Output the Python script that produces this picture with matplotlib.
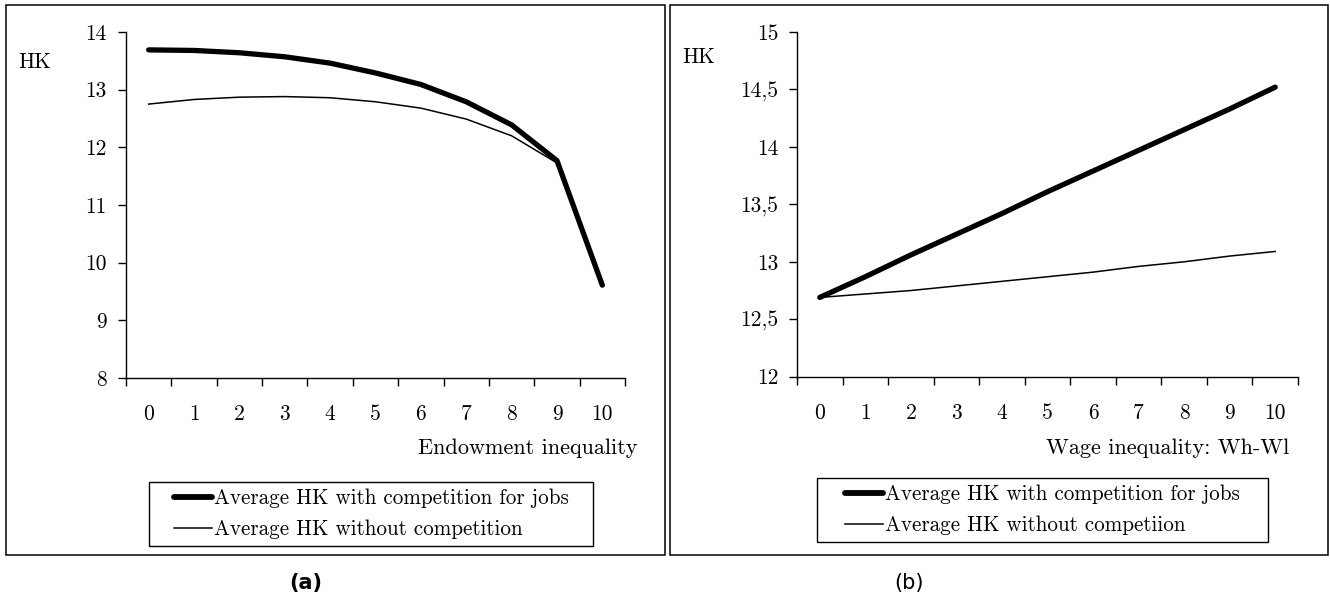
import matplotlib
matplotlib.use("Agg")
import matplotlib.pyplot as plt
from matplotlib.patches import Rectangle
from matplotlib.lines import Line2D

# ---- data ----
categories = list(range(11))

endow_with_comp = [13.69, 13.68, 13.64, 13.57, 13.46, 13.29, 13.09, 12.79, 12.39, 11.77, 9.61]
endow_without_comp = [12.75, 12.83, 12.87, 12.88, 12.86, 12.79, 12.68, 12.49, 12.20, 11.73, 9.61]

wage_with_comp = [12.69, 12.87, 13.06, 13.24, 13.42, 13.61, 13.79, 13.97, 14.15, 14.33, 14.52]
wage_without_comp = [12.69, 12.72, 12.75, 12.79, 12.83, 12.87, 12.91, 12.96, 13.00, 13.05, 13.09]

left_yticks = [8, 9, 10, 11, 12, 13, 14]
left_yticklabels = ["8", "9", "10", "11", "12", "13", "14"]
right_yticks = [12, 12.5, 13, 13.5, 14, 14.5, 15]
right_yticklabels = ["12", "12,5", "13", "13,5", "14", "14,5", "15"]

left_xlabel = "Endowment inequality"
right_xlabel = "Wage inequality: Wh-Wl"
left_legend = ["Average HK with competition for jobs", "Average HK without competition"]
right_legend = ["Average HK with competition for jobs", "Average HK without competiion"]

plt.rcParams["font.family"] = ["cmr10", "DejaVu Serif"]
plt.rcParams["axes.unicode_minus"] = False

FS = 15.5
LEG_FS = 15.2
W, H = 1330, 602
fig = plt.figure(figsize=(W / 100, H / 100), dpi=100)


def fx(px):
    return px / W


def fy(py):
    return 1 - py / H


def frame(x0, y0, x1, y1, lw=1.0):
    fig.patches.append(Rectangle((fx(x0), fy(y1)), fx(x1) - fx(x0), fy(y0) - fy(y1),
                                 transform=fig.transFigure, fill=False,
                                 edgecolor="black", lw=lw, zorder=5))


def panel(rect, with_c, without_c, yticks, yticklabels, ylim, ypad, xlabel, xlabel_right,
          legend_labels, legend_anchor, legend_box):
    ax = fig.add_axes(rect)
    ax.plot(categories, with_c, color="black", lw=3.8, solid_capstyle="round", zorder=3)
    ax.plot(categories, without_c, color="black", lw=1.1, zorder=2)
    ax.set_xlim(-0.5, 10.5)
    ax.set_ylim(*ylim)
    for s in ("top", "right"):
        ax.spines[s].set_visible(False)
    for s in ("left", "bottom"):
        ax.spines[s].set_linewidth(1.0)
    ax.set_yticks(yticks)
    ax.set_yticklabels(yticklabels)
    ax.tick_params(axis="y", direction="out", length=6, width=1, pad=ypad, labelsize=FS)
    # ticks sit between categories, labels sit at the categories
    ax.set_xticks([c - 0.5 for c in categories] + [categories[-1] + 0.5])
    ax.set_xticklabels([])
    ax.tick_params(axis="x", which="major", direction="out", length=6, width=1)
    ax.set_xticks(categories, minor=True)
    ax.set_xticklabels([str(c) for c in categories], minor=True)
    ax.tick_params(axis="x", which="minor", length=0, pad=19, labelsize=FS)
    ax.text(xlabel_right, fy(448), xlabel, transform=fig.transFigure, ha="right", va="center",
            fontsize=16)
    handles = [Line2D([], [], color="black", lw=4.2, solid_capstyle="round"),
               Line2D([], [], color="black", lw=1.1)]
    fig.legend(handles, legend_labels, loc="center left", bbox_to_anchor=legend_anchor,
               bbox_transform=fig.transFigure, frameon=False, fontsize=LEG_FS,
               handlelength=1.78, handletextpad=0.12, borderpad=0, labelspacing=0.55,
               borderaxespad=0)
    frame(*legend_box)
    return ax


axl = panel([fx(126), fy(378), fx(625) - fx(126), fy(32) - fy(378)],
            endow_with_comp, endow_without_comp, left_yticks, left_yticklabels, (8, 14), 8,
            left_xlabel, fx(637), left_legend, (fx(174), fy(514)), (149, 482, 593, 546))
axr = panel([fx(797), fy(376.7), fx(1298) - fx(797), fy(32) - fy(376.7)],
            wage_with_comp, wage_without_comp, right_yticks, right_yticklabels, (12, 15), 7.5,
            right_xlabel, fx(1289), right_legend, (fx(845), fy(510)), (817, 478, 1268, 542))

fig.text(fx(18), fy(62), "HK", fontsize=FS, ha="left", va="center")
fig.text(fx(682), fy(57), "HK", fontsize=FS, ha="left", va="center")

# panel frames
frame(6, 5, 665, 555, lw=1.1)
frame(670, 5, 1328, 555, lw=1.1)

fig.text(fx(306), fy(583), "(a)", family="DejaVu Sans", fontweight="bold", fontsize=15,
         ha="center", va="center")
fig.text(fx(909), fy(583), "(b)", family="DejaVu Sans", fontsize=15, ha="center", va="center")

fig.savefig("out.png", dpi=100, facecolor="white")
